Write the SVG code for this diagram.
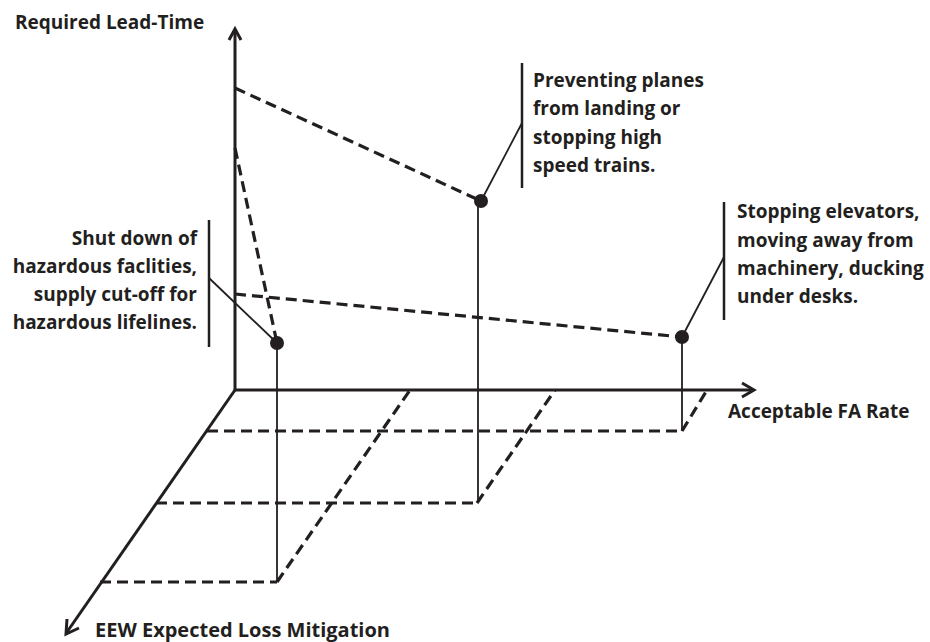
<svg xmlns="http://www.w3.org/2000/svg" width="930" height="642" viewBox="0 0 930 642">
<style>
.axis{fill:none;stroke:#231f20;stroke-width:3;stroke-linecap:butt;stroke-linejoin:miter}
.dash{fill:none;stroke:#231f20;stroke-width:3.2;stroke-dasharray:11 6}
.thin{fill:none;stroke:#231f20;stroke-width:1.8}
.bar{fill:none;stroke:#231f20;stroke-width:2.5}
.lbl{font-family:"Open Sans","Noto Sans",sans-serif;font-weight:700;font-size:19px;fill:#231f20}
.pt{fill:#231f20}
</style>
<rect width="930" height="642" fill="#fff"/>
<g id="connectors">
  <!-- floor grid -->
  <line class="dash" x1="207" y1="431" x2="682" y2="431"/>
  <line class="dash" x1="156" y1="503" x2="477" y2="503"/>
  <line class="dash" x1="100" y1="582" x2="277" y2="582"/>
  <line class="dash" x1="277" y1="582" x2="410" y2="390"/>
  <line class="dash" x1="477" y1="503" x2="555" y2="390"/>
  <line class="dash" x1="682" y1="431" x2="707" y2="390"/>
  <!-- drop lines -->
  <line class="thin" x1="277" y1="343" x2="277" y2="582"/>
  <line class="thin" x1="478" y1="201" x2="478" y2="503"/>
  <line class="thin" x1="682" y1="337" x2="682" y2="431"/>
  <!-- space dashed lines -->
  <line class="dash" x1="235" y1="88" x2="481" y2="201"/>
  <line class="dash" x1="235" y1="148" x2="277" y2="343"/>
  <line class="dash" x1="235" y1="294" x2="682" y2="337"/>
  <!-- leaders -->
  <line class="thin" x1="522" y1="123" x2="481" y2="201"/>
  <line class="thin" x1="724" y1="257" x2="682" y2="337"/>
  <line class="thin" x1="209" y1="278" x2="277" y2="343"/>
</g>
<g id="axes">
  <polyline class="axis" points="235,30 235,390 752,390"/>
  <line class="axis" x1="235" y1="390" x2="67" y2="632"/>
  <polyline class="axis" points="229,40 235,29 241,40"/>
  <polyline class="axis" points="742,383 754,390 742,397"/>
  <polyline class="axis" points="67,619 66,634 79,628"/>
</g>
<g id="axis-labels">
  <text class="lbl" x="15" y="29">Required Lead-Time</text>
  <text class="lbl" x="728" y="418">Acceptable FA Rate</text>
  <text class="lbl" x="95" y="637" style="font-size:20px">EEW Expected Loss Mitigation</text>
</g>
<g id="point-planes">
  <circle class="pt" cx="481" cy="201" r="7"/>
  <line class="bar" x1="522" y1="63" x2="522" y2="188"/>
  <text class="lbl" x="533"><tspan x="533" y="87">Preventing planes</tspan><tspan x="533" y="115">from landing or</tspan><tspan x="533" y="144">stopping high</tspan><tspan x="533" y="172">speed trains.</tspan></text>
</g>
<g id="point-elevators">
  <circle class="pt" cx="682" cy="337" r="7"/>
  <line class="bar" x1="724" y1="202" x2="724" y2="320"/>
  <text class="lbl" x="737"><tspan x="737" y="218">Stopping elevators,</tspan><tspan x="737" y="247">moving away from</tspan><tspan x="737" y="275">machinery, ducking</tspan><tspan x="737" y="303">under desks.</tspan></text>
</g>
<g id="point-hazardous">
  <circle class="pt" cx="277" cy="343" r="7"/>
  <line class="bar" x1="209" y1="220" x2="209" y2="347"/>
  <text class="lbl" text-anchor="end"><tspan x="197" y="245">Shut down of</tspan><tspan x="197" y="273">hazardous faclities,</tspan><tspan x="197" y="301">supply cut-off for</tspan><tspan x="197" y="329">hazardous lifelines.</tspan></text>
</g>
</svg>
